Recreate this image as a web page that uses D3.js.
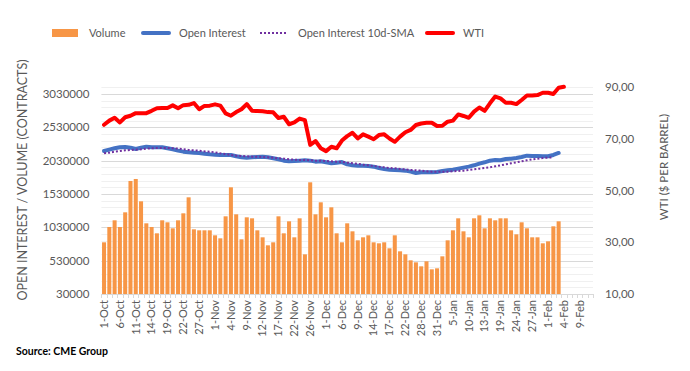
<!DOCTYPE html>
<html>
<head>
<meta charset="utf-8">
<script src="https://cdn.jsdelivr.net/npm/d3@7"></script>
<style>
  body { margin: 0; background: #fff; }
  svg text { font-family: Lato, "Open Sans", sans-serif; fill: #595959; }
</style>
</head>
<body>
<script>
// trading days, Oct - Feb
var dates = [
  "1-Oct","4-Oct","5-Oct","6-Oct","7-Oct","8-Oct","11-Oct","12-Oct","13-Oct","14-Oct","15-Oct","18-Oct","19-Oct","20-Oct","21-Oct","22-Oct","25-Oct","26-Oct","27-Oct","28-Oct","29-Oct",
  "1-Nov","2-Nov","3-Nov","4-Nov","5-Nov","8-Nov","9-Nov","10-Nov","11-Nov","12-Nov","15-Nov","16-Nov","17-Nov","18-Nov","19-Nov","22-Nov","23-Nov","24-Nov","26-Nov","29-Nov","30-Nov",
  "1-Dec","2-Dec","3-Dec","6-Dec","7-Dec","8-Dec","9-Dec","10-Dec","13-Dec","14-Dec","15-Dec","16-Dec","17-Dec","20-Dec","21-Dec","22-Dec","23-Dec","27-Dec","28-Dec","29-Dec","30-Dec","31-Dec",
  "3-Jan","4-Jan","5-Jan","6-Jan","7-Jan","10-Jan","11-Jan","12-Jan","13-Jan","14-Jan","18-Jan","19-Jan","20-Jan","21-Jan","24-Jan","25-Jan","26-Jan","27-Jan","28-Jan","31-Jan",
  "1-Feb","2-Feb","3-Feb","4-Feb","7-Feb","8-Feb","9-Feb","10-Feb","11-Feb"
];

var volume = [
  805000,1035000,1135000,1035000,1255000,1725000,1755000,1420000,1090000,1035000,
  940000,1135000,1105000,1015000,1135000,1240000,1480000,1000000,985000,985000,
  985000,910000,865000,1195000,1630000,1225000,850000,1180000,1165000,985000,
  880000,760000,805000,1195000,940000,1120000,880000,1165000,625000,1705000,
  1225000,1405000,1180000,1330000,940000,805000,1090000,970000,835000,880000,
  910000,805000,790000,805000,715000,910000,670000,625000,535000,505000,
  445000,520000,400000,415000,595000,835000,985000,1165000,970000,880000,
  1165000,1210000,1015000,1165000,1135000,1165000,1165000,985000,925000,1105000,
  1015000,880000,880000,790000,820000,1045000,1120000
];

var openInterest = [
  2175000,2195000,2215000,2230000,2235000,2225000,2205000,2225000,2240000,2230000,
  2230000,2230000,2215000,2200000,2180000,2165000,2155000,2150000,2145000,2135000,
  2125000,2120000,2115000,2115000,2115000,2095000,2080000,2075000,2080000,2085000,
  2090000,2080000,2065000,2050000,2030000,2020000,2025000,2030000,2035000,2030000,
  2015000,2020000,2005000,1990000,2000000,2008000,1975000,1960000,1955000,1955000,
  1950000,1940000,1920000,1905000,1895000,1890000,1885000,1880000,1865000,1845000,
  1855000,1855000,1855000,1860000,1875000,1885000,1895000,1910000,1925000,1940000,
  1960000,1985000,2005000,2030000,2040000,2035000,2055000,2060000,2070000,2085000,
  2105000,2100000,2100000,2095000,2095000,2115000,2145000
];

var oiSma = [
  2140000,2150000,2165000,2175000,2185000,2190000,2195000,2200000,2210000,2215000,
  2220000,2220000,2220000,2215000,2210000,2200000,2190000,2185000,2180000,2170000,
  2165000,2155000,2140000,2130000,2115000,2105000,2100000,2095000,2090000,2090000,
  2085000,2080000,2075000,2065000,2060000,2050000,2045000,2040000,2040000,2035000,
  2030000,2030000,2025000,2020000,2015000,2010000,2000000,1990000,1980000,1970000,
  1960000,1950000,1940000,1930000,1920000,1915000,1905000,1900000,1890000,1885000,
  1880000,1870000,1865000,1865000,1865000,1865000,1870000,1875000,1880000,1890000,
  1900000,1910000,1920000,1930000,1945000,1960000,1975000,1990000,2005000,2020000,
  2035000,2050000,2060000,2070000,2075000,2080000
];

var wti = [
  75.5,77.1,78.2,76.4,78.4,79.0,80.0,80.0,80.0,80.9,
  81.9,82.0,82.0,83.0,81.9,83.1,83.2,83.9,81.5,82.8,
  82.9,83.4,82.9,79.9,79.0,80.4,81.5,83.5,80.9,80.8,
  80.7,80.4,80.3,78.1,78.6,75.7,76.4,77.9,77.3,67.7,
  69.2,66.4,65.3,67.0,66.4,69.4,71.1,72.4,70.2,71.8,
  70.9,69.9,71.5,71.8,70.2,68.9,70.9,72.6,73.5,75.4,
  76.0,76.3,76.3,75.0,75.1,76.7,77.1,79.5,78.9,78.2,
  80.6,82.2,80.9,83.8,86.4,85.7,84.0,84.0,83.5,85.1,
  86.8,86.8,87.0,87.9,87.9,87.4,89.8,90.2
];

var volTicks = [30000, 530000, 1030000, 1530000, 2030000, 2530000, 3030000];
var wtiTicks = [10, 30, 50, 70, 90];

var W = 690, H = 371;
var plotLeft = 101.4, plotRight = 593, plotTop = 87.3, plotBottom = 294;

var svg = d3.select("body").append("svg")
    .attr("width", W)
    .attr("height", H);

var x = d3.scaleBand()
    .domain(dates)
    .range([plotLeft, plotRight])
    .paddingInner(0.24)
    .paddingOuter(0.12);
var step = x.step();
function cx(i) { return x(dates[i]) + x.bandwidth() / 2; }

var y = d3.scaleLinear().domain([30000, 3130000]).range([plotBottom, plotTop]);
var y2 = d3.scaleLinear().domain([10, 90]).range([plotBottom, plotTop]);

// minor gridlines every 100000, major every 500000
var minor = d3.range(130000, 3130001, 100000);
svg.append("g").selectAll("line")
    .data(minor)
    .enter().append("line")
    .attr("x1", plotLeft).attr("x2", plotRight)
    .attr("y1", function(d) { return Math.round(y(d)) + 0.5; })
    .attr("y2", function(d) { return Math.round(y(d)) + 0.5; })
    .attr("stroke", function(d) { return (d - 30000) % 500000 === 0 ? "#d9d9d9" : "#f0f0f0"; })
    .attr("stroke-width", 1);

// bars
svg.append("g").selectAll("rect")
    .data(volume)
    .enter().append("rect")
    .attr("x", function(d, i) { return x(dates[i]); })
    .attr("width", x.bandwidth())
    .attr("y", function(d) { return y(d); })
    .attr("height", function(d) { return plotBottom - y(d); })
    .attr("fill", "#f79646");

// x axis line + ticks
svg.append("line")
    .attr("x1", plotLeft).attr("x2", plotRight)
    .attr("y1", plotBottom + 0.5).attr("y2", plotBottom + 0.5)
    .attr("stroke", "#d9d9d9");
svg.append("g").selectAll("line")
    .data(d3.range(dates.length + 1))
    .enter().append("line")
    .attr("x1", function(i) { return Math.round(plotLeft + i * step) + 0.5; })
    .attr("x2", function(i) { return Math.round(plotLeft + i * step) + 0.5; })
    .attr("y1", plotBottom).attr("y2", plotBottom + 4)
    .attr("stroke", "#d9d9d9");

// lines
var oiLine = d3.line()
    .x(function(d, i) { return cx(i); })
    .y(function(d) { return y(d); });
var wtiLine = d3.line()
    .x(function(d, i) { return cx(i); })
    .y(function(d) { return y2(d); });

svg.append("path").datum(openInterest)
    .attr("d", oiLine)
    .attr("fill", "none")
    .attr("stroke", "#4472c4")
    .attr("stroke-width", 4)
    .attr("stroke-linecap", "round")
    .attr("stroke-linejoin", "round");

svg.append("path").datum(oiSma)
    .attr("d", oiLine)
    .attr("fill", "none")
    .attr("stroke", "#7030a0")
    .attr("stroke-width", 2)
    .attr("stroke-dasharray", "2,2");

svg.append("path").datum(wti)
    .attr("d", wtiLine)
    .attr("fill", "none")
    .attr("stroke", "#ff0000")
    .attr("stroke-width", 4)
    .attr("stroke-linecap", "round")
    .attr("stroke-linejoin", "round");

// left axis labels
svg.append("g").selectAll("text")
    .data(volTicks)
    .enter().append("text")
    .attr("x", plotLeft - 12)
    .attr("y", function(d) { return y(d); })
    .attr("dy", "0.35em")
    .attr("text-anchor", "end")
    .style("font-size", "11.5px")
    .text(function(d) { return d; });

// right axis labels
svg.append("g").selectAll("text")
    .data(wtiTicks)
    .enter().append("text")
    .attr("x", plotRight + 12)
    .attr("y", function(d) { return y2(d); })
    .attr("dy", "0.35em")
    .style("font-size", "11.5px")
    .text(function(d) { return d3.format(".2f")(d).replace(".", ","); });

// x labels, every 3rd day
svg.append("g").selectAll("text")
    .data(dates.filter(function(d, i) { return i % 3 === 0; }))
    .enter().append("text")
    .attr("transform", function(d) {
      return "translate(" + (x(d) + x.bandwidth() / 2) + "," + (plotBottom + 6) + ") rotate(-90)";
    })
    .attr("dy", "0.35em")
    .attr("text-anchor", "end")
    .style("font-size", "11px")
    .text(function(d) { return d; });

// axis titles
svg.append("text")
    .attr("transform", "translate(23,180) rotate(-90)")
    .attr("dy", "0.35em")
    .attr("text-anchor", "middle")
    .style("font-size", "12.5px")
    .text("OPEN INTEREST / VOLUME (CONTRACTS)");

svg.append("text")
    .attr("transform", "translate(664,167) rotate(-90)")
    .attr("dy", "0.35em")
    .attr("text-anchor", "middle")
    .style("font-size", "11.5px")
    .text("WTI ($ PER BARREL)");

// legend
var lg = svg.append("g").attr("transform", "translate(0,33)");
lg.append("rect").attr("x", 52).attr("y", -4).attr("width", 26).attr("height", 8).attr("fill", "#f79646");
lg.append("text").attr("x", 89).attr("dy", "0.35em").style("font-size", "11px").text("Volume");
lg.append("line").attr("x1", 143).attr("x2", 169).attr("stroke", "#4472c4").attr("stroke-width", 4).attr("stroke-linecap", "round");
lg.append("text").attr("x", 179).attr("dy", "0.35em").style("font-size", "11px").text("Open Interest");
lg.append("line").attr("x1", 260).attr("x2", 288).attr("stroke", "#7030a0").attr("stroke-width", 2).attr("stroke-dasharray", "2,2");
lg.append("text").attr("x", 298).attr("dy", "0.35em").style("font-size", "11px").text("Open Interest 10d-SMA");
lg.append("line").attr("x1", 427).attr("x2", 453).attr("stroke", "#ff0000").attr("stroke-width", 4).attr("stroke-linecap", "round");
lg.append("text").attr("x", 463).attr("dy", "0.35em").style("font-size", "11px").text("WTI");

// source
svg.append("text")
    .attr("x", 16).attr("y", 351)
    .attr("dy", "0.35em")
    .style("font-size", "10.5px")
    .style("font-weight", "bold")
    .style("fill", "#000")
    .text("Source: CME Group");
</script>
</body>
</html>
